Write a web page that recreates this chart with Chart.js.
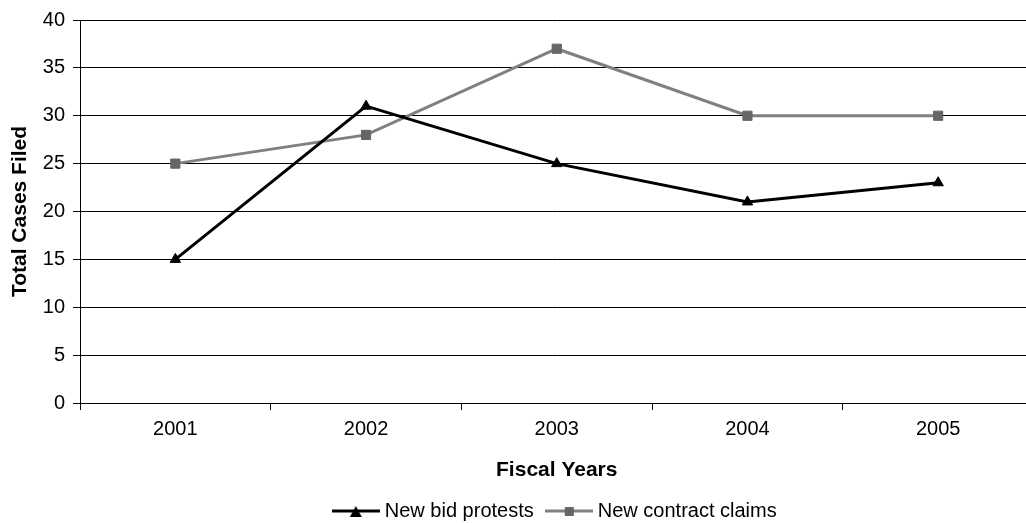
<!DOCTYPE html>
<html>
<head>
<meta charset="utf-8">
<script src="https://cdn.jsdelivr.net/npm/chart.js@4.4.1/dist/chart.umd.min.js"></script>
<style>
  html, body { margin: 0; padding: 0; background: #fff; overflow: hidden; }
  #wrap { width: 1041px; height: 531px; }
</style>
</head>
<body>
<div id="wrap"><canvas id="chart" width="1041" height="531"></canvas></div>
<script>
const years = ["2001", "2002", "2003", "2004", "2005"];
const bidProtests = [15, 31, 25, 21, 23];
const contractClaims = [25, 28, 37, 30, 30];
const seriesNames = ["New bid protests", "New contract claims"];

Chart.defaults.font.family = "'Liberation Sans', Arial, sans-serif";
Chart.defaults.color = "#000";

// small line+marker sample for the legend
function legendSample(lineColor, markerColor, shape) {
  const c = document.createElement("canvas");
  c.width = 48;
  c.height = 14;
  const ctx = c.getContext("2d");
  ctx.strokeStyle = lineColor;
  ctx.lineWidth = 3;
  ctx.beginPath();
  ctx.moveTo(0, 7);
  ctx.lineTo(48, 7);
  ctx.stroke();
  ctx.fillStyle = markerColor;
  if (shape === "triangle") {
    ctx.beginPath();
    ctx.moveTo(24, 2);
    ctx.lineTo(30, 13);
    ctx.lineTo(18, 13);
    ctx.closePath();
    ctx.fill();
  } else {
    ctx.fillRect(20, 3, 9, 9);
  }
  return c;
}

const samples = [
  legendSample("#000", "#000", "triangle"),
  legendSample("#808080", "#666", "rect")
];

new Chart(document.getElementById("chart"), {
  type: "line",
  data: {
    labels: years,
    datasets: [
      {
        label: seriesNames[0],
        data: bidProtests,
        borderColor: "#000",
        borderWidth: 3,
        pointStyle: "triangle",
        pointRadius: 6,
        pointBackgroundColor: "#000",
        pointBorderColor: "#000",
        pointBorderWidth: 1,
        tension: 0
      },
      {
        label: seriesNames[1],
        data: contractClaims,
        borderColor: "#808080",
        borderWidth: 3,
        pointStyle: "rect",
        pointRadius: 6.5,
        pointBackgroundColor: "#666",
        pointBorderColor: "#666",
        pointBorderWidth: 1,
        tension: 0
      }
    ]
  },
  options: {
    responsive: false,
    animation: false,
    layout: { padding: { top: 19, left: 0, right: 0, bottom: 0 } },
    plugins: {
      tooltip: { enabled: false },
      legend: {
        position: "bottom",
        fullSize: false,
        labels: {
          usePointStyle: true,
          pointStyleWidth: 38,
          padding: 16,
          color: "#000",
          font: { size: 20 },
          generateLabels: chart => {
            const items = Chart.defaults.plugins.legend.labels.generateLabels(chart);
            items.forEach((it, i) => { it.pointStyle = samples[i]; });
            return items;
          }
        }
      }
    },
    scales: {
      x: {
        offset: true,
        grid: { display: true, offset: true, drawOnChartArea: false, tickLength: 7, color: "#000" },
        border: { color: "#000", width: 1 },
        ticks: { font: { size: 20 }, color: "#000", padding: 7, maxRotation: 0 },
        title: {
          display: true,
          text: "Fiscal Years",
          color: "#000",
          font: { size: 21, weight: "bold" },
          padding: { top: 0, bottom: 2 }
        },
        afterFit: s => { s.height = 82; }
      },
      y: {
        min: 0,
        max: 40,
        ticks: { stepSize: 5, font: { size: 20 }, color: "#000", padding: 8 },
        grid: { color: "#000", lineWidth: 1, tickLength: 7 },
        border: { color: "#000", width: 1 },
        title: {
          display: true,
          text: "Total Cases Filed",
          color: "#000",
          font: { size: 21, weight: "bold" },
          padding: { top: 8, bottom: 0 }
        },
        afterFit: s => { s.width = 80; }
      }
    }
  }
});
</script>
</body>
</html>
